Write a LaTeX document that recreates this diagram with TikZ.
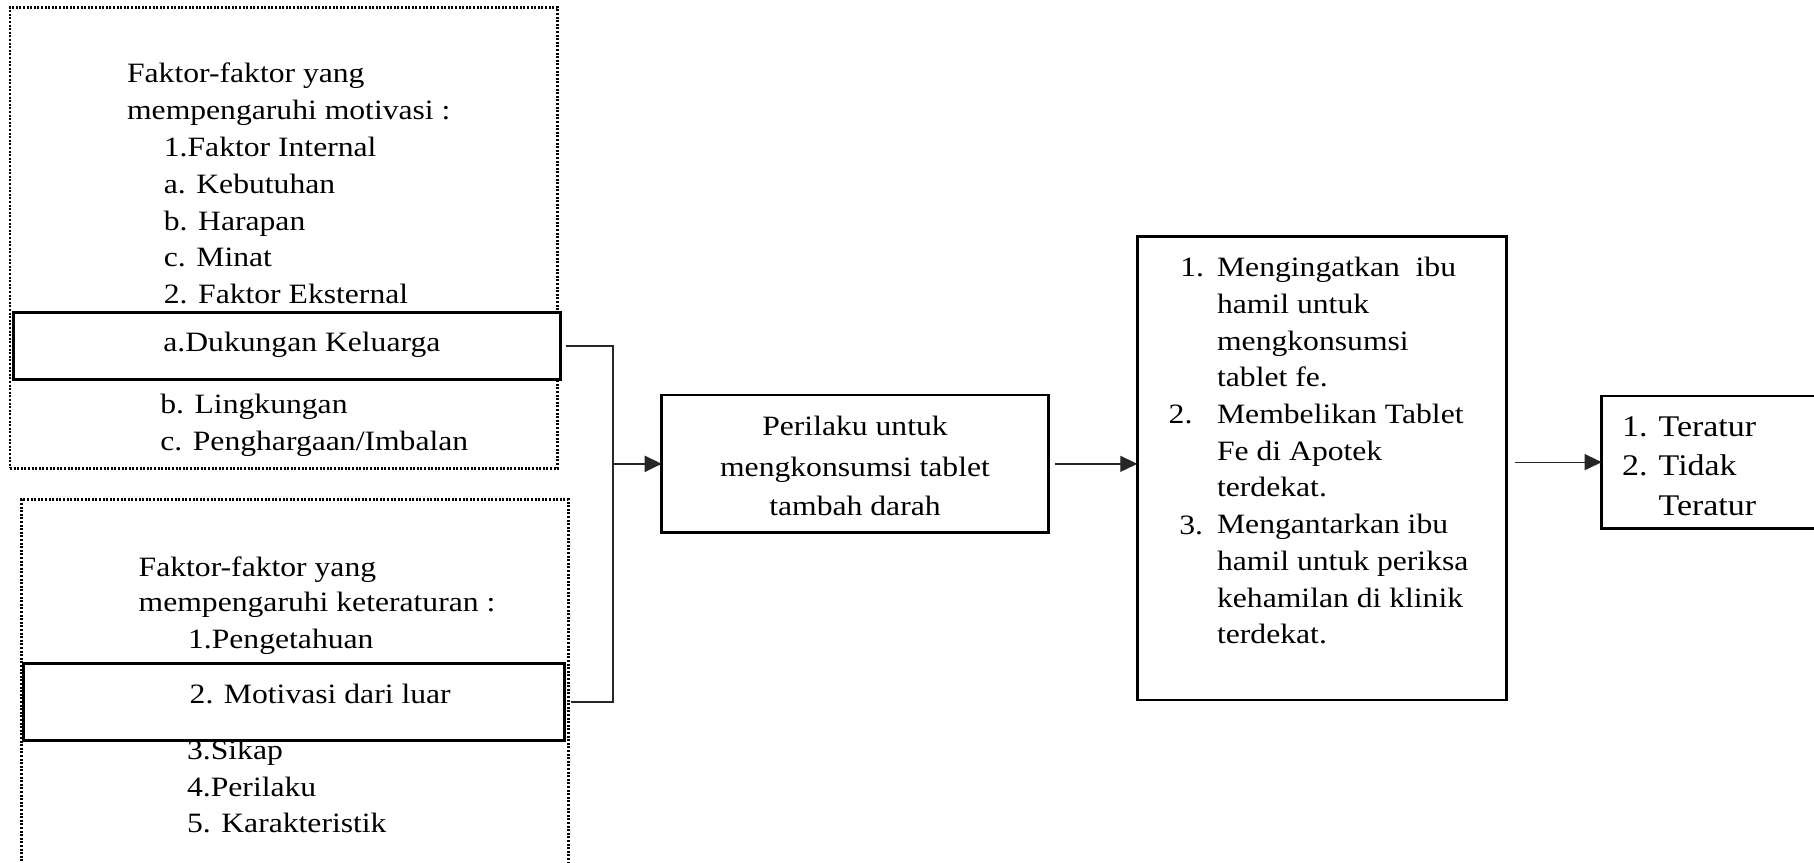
\documentclass[tikz,border=0pt]{standalone}
\usepackage{fontspec}
\setmainfont{Liberation Serif}[FakeStretch=1.13]
\usetikzlibrary{arrows.meta,positioning}

\tikzset{
  dotbox/.style={draw, line width=1.4pt, dash pattern=on 1pt off 0.8pt, anchor=north west, inner sep=0pt, outer sep=0pt},
  solidbox/.style={draw, line width=1.35pt, fill=white, anchor=north west, inner sep=0pt, outer sep=0pt},
  txt/.style={anchor=base west, inner sep=0pt, font=\fontsize{14}{18}\selectfont},
  ctxt/.style={txt, anchor=base},
  bigtxt/.style={txt, font=\fontsize{15}{19}\selectfont},
  link/.style={line width=0.65pt, black!85},
  arr/.style={link, -{Triangle[length=8.5pt,width=8pt]}},
}

\begin{document}
\begin{tikzpicture}[x=0.5pt, y=-0.5pt]
\useasboundingbox (0,0) rectangle (1814,862);

% faktor motivasi
\node[dotbox, minimum width=273.7pt, minimum height=230.5pt] (motbox) at (10,7.3) {};
\node[txt] (mh1) at (126.7,82.7) {Faktor-faktor yang};
\node[txt] (mh2) at (126.7,119.3) {mempengaruhi motivasi :};
\foreach \t [count=\i] in {1.Faktor Internal, a. Kebutuhan, b. Harapan, c. Minat, 2. Faktor Eksternal}
  \node[txt] (ml\i) at (163.5,{156.7+36.65*(\i-1)}) {\t};
\node[txt] (lingk) at (160,413.3) {b. Lingkungan};
\node[txt] (imbal) at (160,450) {c. Penghargaan/Imbalan};
\node[solidbox, minimum width=273.7pt, minimum height=33.7pt] (dukungan) at (13.3,312.3) {};
\node[txt] (dukt) at (163,351.7) {a.Dukungan Keluarga};

% faktor keteraturan
\node[dotbox, minimum width=273.3pt, minimum height=195pt] (ketbox) at (21.7,499.3) {};
\node[txt] (kh1) at (138.3,576) {Faktor-faktor yang};
\node[txt] (kh2) at (138.3,611.7) {mempengaruhi keteraturan :};
\node[txt] (kl1) at (187.7,648.3) {1.Pengetahuan};
\foreach \t [count=\i] in {3.Sikap, 4.Perilaku, 5. Karakteristik}
  \node[txt] (kr\i) at (186.7,{759.3+36.7*(\i-1)}) {\t};
\node[solidbox, minimum width=270.5pt, minimum height=38.7pt] (motivasi) at (23.3,663.3) {};
\node[txt] (motivt) at (189.3,703.3) {2. Motivasi dari luar};

% perilaku
\node[solidbox, minimum width=193.3pt, minimum height=68.85pt] (perilaku) at (661.7,395) {};
\foreach \t/\y [count=\i] in {Perilaku untuk/435, mengkonsumsi tablet/476.7, tambah darah/515}
  \node[ctxt] (pt\i) at (855,\y) {\t};

% tindakan keluarga
\node[solidbox, minimum width=184.7pt, minimum height=231.65pt] (tindakan) at (1137.3,236.7) {};
\node[txt] (tn1) at (1180,276.7) {1.};
\node[txt] (tn2) at (1168.3,423.3) {2.};
\node[txt] (tn3) at (1179,534) {3.};
\foreach \t [count=\i] in {Mengingatkan\ \ ibu, hamil untuk, mengkonsumsi, tablet fe., Membelikan Tablet, Fe di Apotek, terdekat., Mengantarkan ibu, hamil untuk periksa, kehamilan di klinik, terdekat.}
  \node[txt] (tl\i) at (1216.7,{276.7+36.7*(\i-1)}) {\t};

% hasil
\node[solidbox, minimum width=120pt, minimum height=66.15pt] (hasil) at (1601.7,396) {};
\node[bigtxt] (hn1) at (1621.7,436.7) {1.};
\node[bigtxt] (ht1) at (1658.3,436.7) {Teratur};
\node[bigtxt] (hn2) at (1621.7,475) {2.};
\node[bigtxt] (ht2) at (1658.3,475) {Tidak};
\node[bigtxt] (ht3) at (1658.3,515) {Teratur};

% panah
\coordinate (join) at (613,463.85);
\draw[link, shorten <=2.5pt] (dukungan.east) -| (join);
\draw[link, shorten <=3.5pt] (motivasi.east) -| (join);
\draw[arr, line width=1.1pt] (join) -- (perilaku.west);
\draw[arr, shorten <=3.5pt] (perilaku.east) -- (perilaku.east -| tindakan.west);
\draw[arr, shorten <=4pt] (tindakan.east |- hasil.west) -- (hasil.west);
\end{tikzpicture}
\end{document}
